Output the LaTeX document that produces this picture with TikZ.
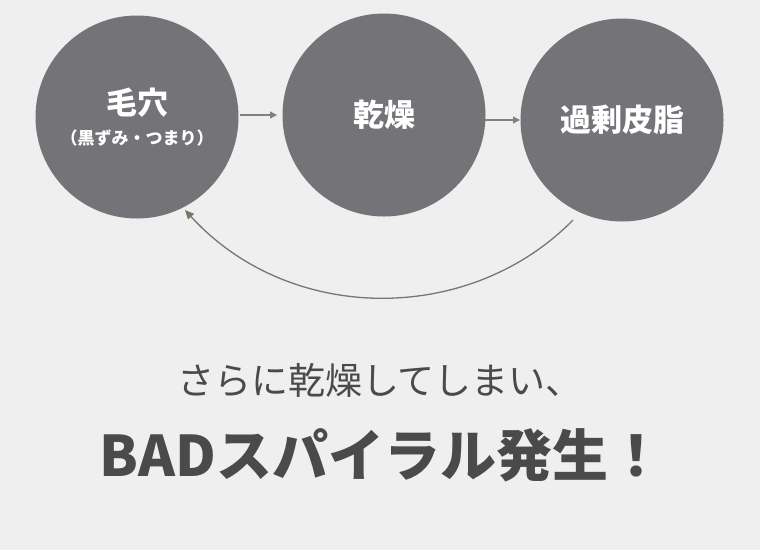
\documentclass[tikz,border=0pt]{standalone}
\usepackage{fontspec}
\setmainfont{Noto Sans CJK JP}
\newfontfamily\jp{Noto Sans CJK JP}
\usetikzlibrary{arrows.meta}
\definecolor{bg}{HTML}{EFEFEF}
\definecolor{circ}{HTML}{747478}
\definecolor{arr}{HTML}{77776A}
\definecolor{txt}{HTML}{4A4A4A}
\tikzset{
  stage/.style={circle,fill=circ,minimum size=203pt,inner sep=0pt,text=white,align=center,font=\jp\bfseries\fontsize{31}{34}\selectfont},
  link/.style={draw=gray,line width=1.2pt,-{Triangle[length=7pt,width=7pt]}},
  loop/.style={draw=arr,line width=1.3pt,-{Triangle[length=9pt,width=8pt]}}
}
\begin{document}
\begin{tikzpicture}[x=1pt,y=1pt]
\fill[bg] (0,0) rectangle (760,-550);
\useasboundingbox (0,0) rectangle (760,-550);
\node[stage] (a) at (137,-117) {毛穴\\[-4pt]{\fontsize{17}{19}\selectfont （黒ずみ・つまり）}};
\node[stage] (b) at (384,-115) {乾燥};
\node[stage] (c) at (622,-120) {過剰皮脂};
\draw[link] (240,-115) coordinate (a1) -- (277,-115) coordinate (b1);
\draw[link] (485,-120) coordinate (b2) -- (520,-120) coordinate (c1);
\coordinate (s) at (573,-220);
\coordinate (e) at (185,-210);
\draw[loop] (s) .. controls (470,-325) and (290,-325) .. (e);
\node[text=txt,font=\jp\fontsize{37}{40}\selectfont] (t1) at (380,-380) {さらに乾燥してしまい、};
\node[text=txt,font=\jp\bfseries\fontsize{56}{60}\selectfont] (t2) at (382,-455) {BADスパイラル発生！};
\end{tikzpicture}
\end{document}
